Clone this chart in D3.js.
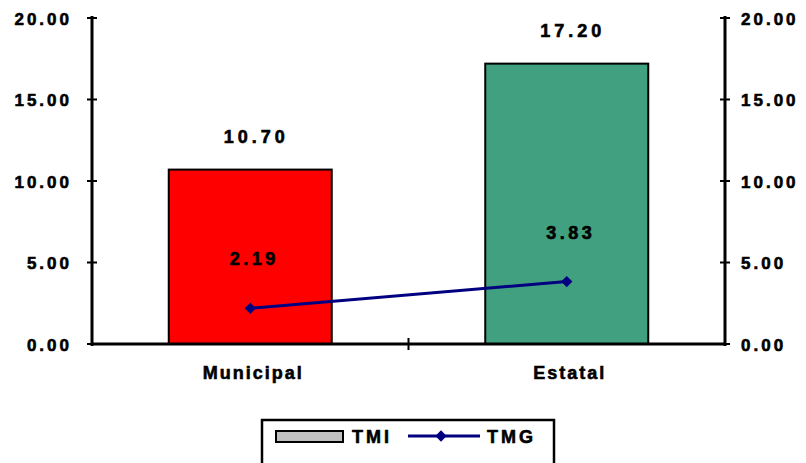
<!DOCTYPE html>
<html>
<head>
<meta charset="utf-8">
<script src="https://cdn.jsdelivr.net/npm/d3@7"></script>
<style>
  html, body { margin: 0; padding: 0; background: #fff; }
  svg { display: block; }
  text { font-family: "Liberation Sans", Arial, sans-serif; font-weight: bold; fill: #000; stroke: #000; stroke-width: 0.6px; }
</style>
</head>
<body>
<svg id="chart" width="806" height="463"></svg>
<script>
// Data
const categories = ["Municipal", "Estatal"];
const tmiValues = [10.70, 17.20];
const tmgValues = [2.19, 3.83];
const barColors = ["#ff0000", "#41a07f"];
const tickValues = [0, 5, 10, 15, 20];
const legendLabels = ["TMI", "TMG"];

const svg = d3.select("#chart");
const plotLeft = 92, plotRight = 725, plotTop = 18, plotBottom = 344;

const x = d3.scaleBand().domain(categories).range([plotLeft, plotRight]).padding(0);
const y = d3.scaleLinear().domain([0, 20]).range([plotBottom, plotTop]);
const barW = x.bandwidth() * 0.515;
const cx = d => x(d) + x.bandwidth() / 2;

// Bars
svg.selectAll("rect.bar")
  .data(categories)
  .join("rect")
  .attr("class", "bar")
  .attr("x", d => cx(d) - barW / 2)
  .attr("y", (d, i) => y(tmiValues[i]))
  .attr("width", barW)
  .attr("height", (d, i) => plotBottom - y(tmiValues[i]))
  .attr("fill", (d, i) => barColors[i])
  .attr("stroke", "#000")
  .attr("stroke-width", 2);

// Bar value labels
svg.selectAll("text.barlab")
  .data(categories)
  .join("text")
  .attr("class", "barlab")
  .attr("x", d => cx(d) + 6)
  .attr("y", (d, i) => y(tmiValues[i]) - 27)
  .attr("text-anchor", "middle")
  .style("font-size", "18px")
  .style("letter-spacing", "4px")
  .text((d, i) => tmiValues[i].toFixed(2));

// Left axis
const leftAxis = d3.axisLeft(y).tickValues(tickValues).tickSize(0).tickFormat(d3.format(".2f"));
const gL = svg.append("g").attr("transform", `translate(${plotLeft},0)`).call(leftAxis);
gL.select(".domain").remove();
gL.selectAll("text").attr("x", -20).attr("dy", "0.36em").style("font-size", "17px").style("letter-spacing", "3px")
  .style("font-family", "'Liberation Sans', Arial, sans-serif").style("font-weight", "900");

// Right axis
const rightAxis = d3.axisRight(y).tickValues(tickValues).tickSize(0).tickFormat(d3.format(".2f"));
const gR = svg.append("g").attr("transform", `translate(${plotRight},0)`).call(rightAxis);
gR.select(".domain").remove();
gR.selectAll("text").attr("x", 16).attr("dy", "0.36em").style("font-size", "17px").style("letter-spacing", "3px")
  .style("font-family", "'Liberation Sans', Arial, sans-serif").style("font-weight", "900");

// Axis lines and cross ticks
[plotLeft, plotRight].forEach(ax => {
  svg.append("line").attr("x1", ax).attr("x2", ax).attr("y1", plotTop - 2).attr("y2", plotBottom + 2)
    .attr("stroke", "#000").attr("stroke-width", 3);
  svg.selectAll(null).data(tickValues).join("line")
    .attr("x1", ax - 5).attr("x2", ax + 5)
    .attr("y1", d => y(d)).attr("y2", d => y(d))
    .attr("stroke", "#000").attr("stroke-width", 2);
});
svg.append("line").attr("x1", plotLeft).attr("x2", plotRight).attr("y1", plotBottom).attr("y2", plotBottom)
  .attr("stroke", "#000").attr("stroke-width", 3);
// Category separator tick
svg.append("line").attr("x1", x(categories[1])).attr("x2", x(categories[1]))
  .attr("y1", plotBottom - 6).attr("y2", plotBottom + 6).attr("stroke", "#000").attr("stroke-width", 2);

// Category labels
svg.selectAll("text.cat")
  .data(categories)
  .join("text")
  .attr("class", "cat")
  .attr("x", d => cx(d) + 3)
  .attr("y", 379)
  .attr("text-anchor", "middle")
  .style("font-size", "18px")
  .style("letter-spacing", "2px")
  .text(d => d);

// TMG line
const line = d3.line().x((d, i) => cx(categories[i])).y(d => y(d));
svg.append("path").datum(tmgValues)
  .attr("d", line).attr("fill", "none").attr("stroke", "#000080").attr("stroke-width", 3);
const diamond = d3.symbol().type(d3.symbolSquare).size(64);
svg.selectAll("path.mk").data(tmgValues).join("path")
  .attr("class", "mk")
  .attr("d", diamond)
  .attr("transform", (d, i) => `translate(${cx(categories[i])},${y(d)}) rotate(45)`)
  .attr("fill", "#000080");

// TMG value labels
svg.selectAll("text.tmglab")
  .data(tmgValues)
  .join("text")
  .attr("class", "tmglab")
  .attr("x", (d, i) => cx(categories[i]) + 4)
  .attr("y", d => y(d) - 43)
  .attr("text-anchor", "middle")
  .style("font-size", "18px")
  .style("letter-spacing", "3.5px")
  .text(d => d.toFixed(2));

// Legend
const lg = svg.append("g");
lg.append("rect").attr("x", 262).attr("y", 420).attr("width", 292).attr("height", 70)
  .attr("fill", "#fff").attr("stroke", "#000").attr("stroke-width", 2.5);
lg.append("rect").attr("x", 276).attr("y", 431).attr("width", 67).attr("height", 11)
  .attr("fill", "#c0c0c0").attr("stroke", "#000").attr("stroke-width", 2);
lg.append("text").attr("x", 352).attr("y", 443).style("font-size", "18px")
  .style("letter-spacing", "3px").text(legendLabels[0]);
lg.append("line").attr("x1", 408).attr("x2", 480).attr("y1", 436).attr("y2", 436)
  .attr("stroke", "#000080").attr("stroke-width", 3);
lg.append("path").attr("d", diamond).attr("transform", "translate(441,436) rotate(45)").attr("fill", "#000080");
lg.append("text").attr("x", 487).attr("y", 443).style("font-size", "18px")
  .style("letter-spacing", "3px").text(legendLabels[1]);
</script>
</body>
</html>
